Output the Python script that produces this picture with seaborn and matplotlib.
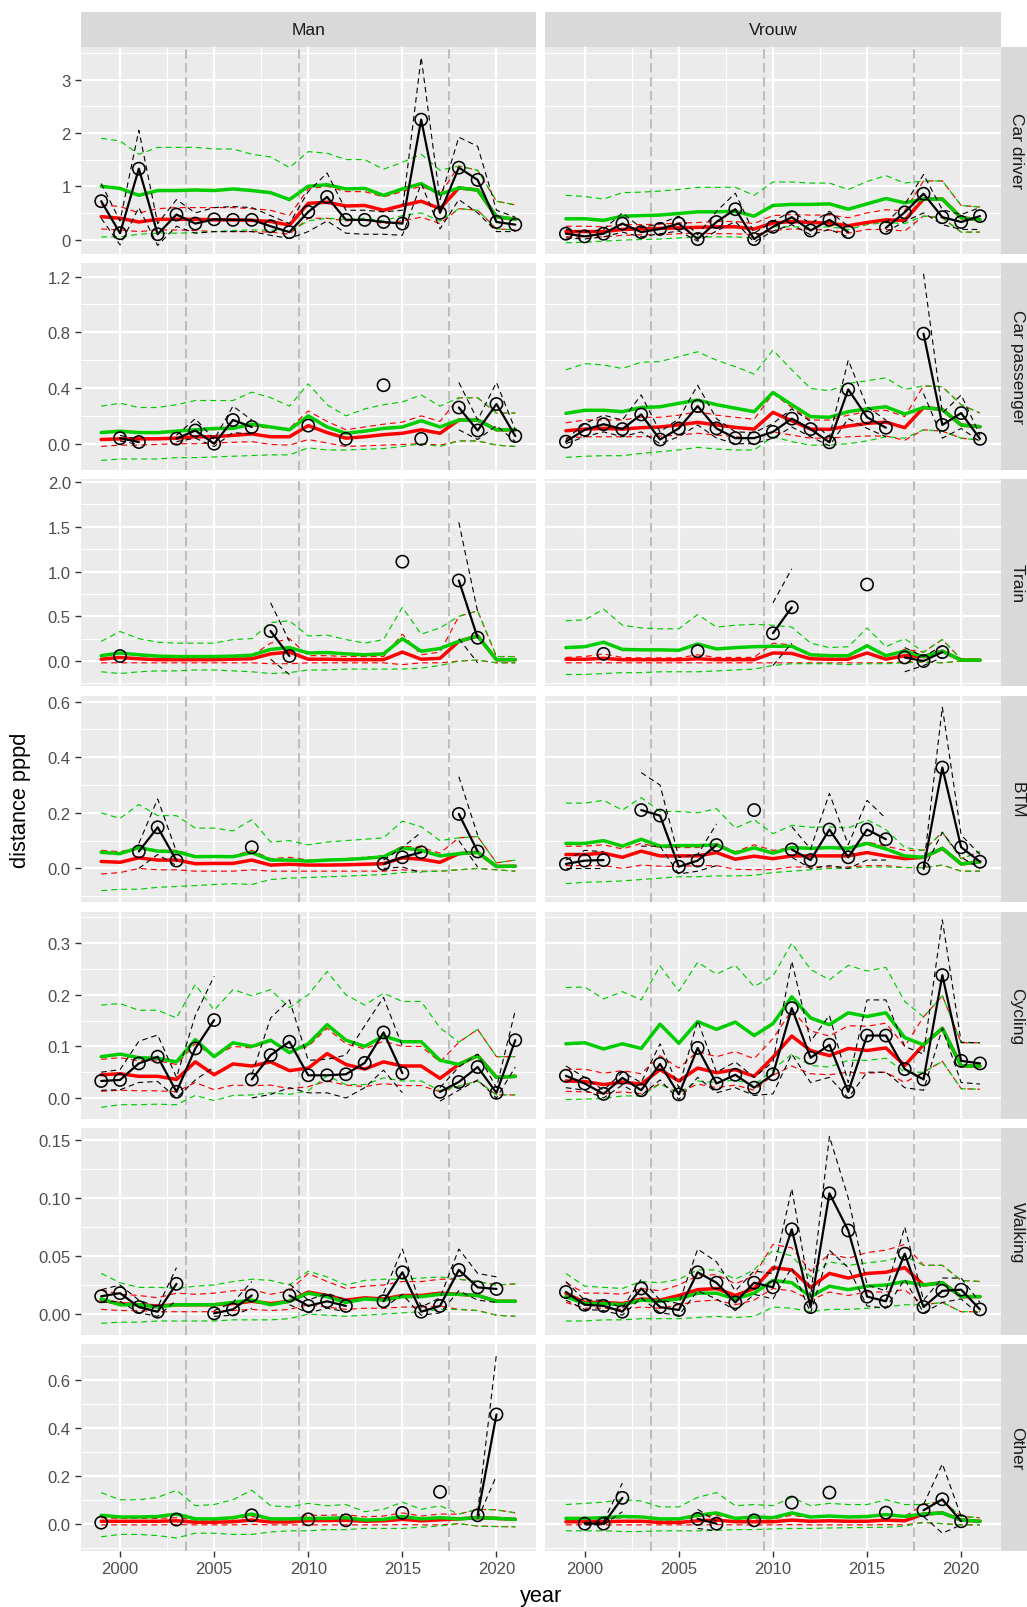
import numpy as np
import pandas as pd
import matplotlib
matplotlib.use("Agg")
import matplotlib.pyplot as plt
from matplotlib.ticker import FixedLocator
import seaborn as sns

N = None
YEARS = list(range(1999, 2022))
SEXES = ["Man", "Vrouw"]
MODES = ["Car driver", "Car passenger", "Train", "BTM", "Cycling", "Walking", "Other"]
PERIOD_BREAKS = [2003.5, 2009.5, 2017.5]
X_TICKS = [2000, 2005, 2010, 2015, 2020]
X_TICK_LABELS = ["2000", "2005", "2010", "2015", "2020"]
Y_TICKS = {
    "Car driver": [0, 1, 2, 3],
    "Car passenger": [0.0, 0.4, 0.8, 1.2],
    "Train": [0.0, 0.5, 1.0, 1.5, 2.0],
    "BTM": [0.0, 0.2, 0.4, 0.6],
    "Cycling": [0.0, 0.1, 0.2, 0.3],
    "Walking": [0.0, 0.05, 0.10, 0.15],
    "Other": [0.0, 0.2, 0.4, 0.6],
}
Y_TICK_LABELS = {
    "Car driver": ["0", "1", "2", "3"],
    "Car passenger": ["0.0", "0.4", "0.8", "1.2"],
    "Train": ["0.0", "0.5", "1.0", "1.5", "2.0"],
    "BTM": ["0.0", "0.2", "0.4", "0.6"],
    "Cycling": ["0.0", "0.1", "0.2", "0.3"],
    "Walking": ["0.00", "0.05", "0.10", "0.15"],
    "Other": ["0.0", "0.2", "0.4", "0.6"],
}

# observed (obs) with its interval, and two model estimates (red, green) with intervals
CAR_DRIVER_MAN = dict(
    obs=[0.72, 0.12, 1.33, 0.10, 0.47, 0.30, 0.38, 0.37, 0.37, 0.25, 0.14, 0.52, 0.80, 0.37, 0.37, 0.33, 0.30, 2.25, 0.50, 1.35, 1.12, 0.33, 0.28],
    obs_hi=[1.05, 0.35, 2.05, 0.30, 0.75, 0.50, 0.60, 0.62, 0.60, 0.45, 0.30, 0.90, 1.25, 0.55, 0.55, 0.52, 0.55, 3.42, 0.75, 1.92, 1.75, 0.55, 0.42],
    obs_lo=[0.40, -0.10, 0.60, -0.11, 0.25, 0.12, 0.15, 0.15, 0.15, 0.08, 0.02, 0.15, 0.35, 0.12, 0.10, 0.10, 0.08, 1.05, 0.20, 0.75, 0.50, 0.15, 0.15],
    red=[0.43, 0.40, 0.33, 0.38, 0.38, 0.38, 0.37, 0.37, 0.36, 0.34, 0.27, 0.68, 0.70, 0.63, 0.64, 0.55, 0.64, 0.72, 0.58, 0.97, 0.93, 0.43, 0.38],
    red_hi=[0.65, 0.62, 0.50, 0.58, 0.60, 0.60, 0.60, 0.60, 0.58, 0.55, 0.45, 0.95, 1.00, 0.90, 0.90, 0.80, 0.90, 1.00, 0.85, 1.38, 1.30, 0.72, 0.65],
    red_lo=[0.20, 0.18, 0.15, 0.18, 0.18, 0.17, 0.15, 0.15, 0.15, 0.14, 0.10, 0.40, 0.40, 0.35, 0.38, 0.30, 0.35, 0.42, 0.30, 0.58, 0.55, 0.20, 0.18],
    green=[1.00, 0.96, 0.83, 0.92, 0.92, 0.93, 0.92, 0.95, 0.92, 0.88, 0.75, 1.00, 1.03, 0.95, 0.96, 0.83, 0.95, 1.05, 0.85, 0.97, 0.93, 0.43, 0.38],
    green_hi=[1.90, 1.85, 1.60, 1.73, 1.73, 1.73, 1.70, 1.70, 1.60, 1.55, 1.35, 1.65, 1.62, 1.50, 1.50, 1.32, 1.45, 1.60, 1.30, 1.38, 1.30, 0.72, 0.65],
    green_lo=[0.05, 0.05, 0.10, 0.12, 0.12, 0.13, 0.15, 0.17, 0.18, 0.18, 0.15, 0.35, 0.40, 0.38, 0.40, 0.35, 0.45, 0.50, 0.35, 0.58, 0.55, 0.20, 0.18],
)
CAR_DRIVER_VROUW = dict(
    obs=[0.11, 0.06, 0.11, 0.30, 0.14, 0.20, 0.30, 0.01, 0.33, 0.57, 0.01, 0.24, 0.42, 0.17, 0.37, 0.14, N, 0.22, 0.51, 0.86, 0.42, 0.33, 0.44],
    obs_hi=[0.19, 0.14, 0.19, 0.50, 0.22, 0.30, 0.44, 0.09, 0.53, 0.87, 0.12, 0.34, 0.53, 0.30, 0.53, 0.25, N, 0.31, 0.66, 1.22, 0.56, 0.47, 0.60],
    obs_lo=[0.03, 0.01, 0.05, 0.14, 0.05, 0.11, 0.16, -0.03, 0.16, 0.34, -0.05, 0.16, 0.28, 0.09, 0.19, 0.05, N, 0.14, 0.34, 0.50, 0.28, 0.19, 0.19],
    red=[0.15, 0.15, 0.15, 0.19, 0.20, 0.21, 0.22, 0.23, 0.24, 0.24, 0.20, 0.31, 0.34, 0.32, 0.31, 0.26, 0.32, 0.37, 0.36, 0.76, 0.76, 0.41, 0.37],
    red_hi=[0.25, 0.25, 0.24, 0.28, 0.28, 0.29, 0.31, 0.32, 0.34, 0.34, 0.30, 0.45, 0.47, 0.46, 0.46, 0.41, 0.50, 0.56, 0.54, 1.10, 1.10, 0.64, 0.61],
    red_lo=[0.05, 0.05, 0.05, 0.08, 0.09, 0.09, 0.11, 0.12, 0.11, 0.11, 0.09, 0.17, 0.20, 0.19, 0.18, 0.12, 0.19, 0.19, 0.16, 0.44, 0.41, 0.14, 0.14],
    green=[0.39, 0.39, 0.36, 0.44, 0.45, 0.46, 0.49, 0.52, 0.52, 0.53, 0.44, 0.64, 0.66, 0.66, 0.67, 0.57, 0.67, 0.77, 0.69, 0.76, 0.76, 0.41, 0.37],
    green_hi=[0.83, 0.81, 0.76, 0.88, 0.89, 0.91, 0.94, 0.98, 0.98, 0.98, 0.83, 1.08, 1.08, 1.06, 1.06, 0.94, 1.09, 1.20, 1.06, 1.10, 1.10, 0.64, 0.61],
    green_lo=[-0.06, -0.05, -0.03, -0.01, 0.00, 0.01, 0.03, 0.05, 0.05, 0.05, 0.03, 0.24, 0.24, 0.23, 0.24, 0.19, 0.28, 0.32, 0.30, 0.44, 0.41, 0.14, 0.14],
)
CAR_PASSENGER_MAN = dict(
    obs=[N, 0.04, 0.012, N, 0.036, 0.095, 0.00, 0.17, 0.12, N, N, 0.13, N, 0.035, N, 0.42, N, 0.035, N, 0.26, 0.095, 0.285, 0.055],
    obs_hi=[N, 0.06, 0.03, N, 0.06, 0.18, 0.03, 0.27, 0.17, N, N, N, N, N, N, N, N, N, N, 0.44, 0.17, 0.44, 0.10],
    obs_lo=[N, 0.02, -0.005, N, 0.015, 0.04, -0.02, 0.08, 0.07, N, N, N, N, N, N, N, N, N, N, 0.10, 0.03, 0.13, 0.015],
    red=[0.03, 0.035, 0.035, 0.035, 0.04, 0.05, 0.05, 0.06, 0.07, 0.05, 0.05, 0.13, 0.08, 0.04, 0.05, 0.065, 0.075, 0.10, 0.075, 0.17, 0.17, 0.10, 0.10],
    red_hi=[0.08, 0.085, 0.085, 0.085, 0.09, 0.10, 0.10, 0.12, 0.13, 0.11, 0.11, 0.235, 0.16, 0.10, 0.12, 0.14, 0.155, 0.20, 0.16, 0.33, 0.33, 0.22, 0.22],
    red_lo=[-0.02, -0.01, -0.01, -0.005, 0.0, 0.0, 0.005, 0.01, 0.015, -0.005, -0.01, 0.03, 0.005, -0.02, -0.015, -0.01, -0.005, 0.0, -0.01, 0.02, 0.02, -0.01, -0.02],
    green=[0.08, 0.09, 0.08, 0.08, 0.09, 0.10, 0.11, 0.11, 0.14, 0.12, 0.10, 0.20, 0.12, 0.075, 0.09, 0.11, 0.12, 0.165, 0.12, 0.17, 0.17, 0.10, 0.10],
    green_hi=[0.27, 0.29, 0.26, 0.26, 0.28, 0.31, 0.31, 0.31, 0.37, 0.33, 0.27, 0.43, 0.28, 0.20, 0.25, 0.28, 0.30, 0.35, 0.27, 0.33, 0.33, 0.22, 0.22],
    green_lo=[-0.12, -0.11, -0.11, -0.11, -0.10, -0.10, -0.095, -0.09, -0.085, -0.08, -0.08, -0.03, -0.045, -0.045, -0.04, -0.035, -0.02, 0.0, -0.02, 0.02, 0.02, -0.01, -0.02],
)
CAR_PASSENGER_VROUW = dict(
    obs=[0.015, 0.10, 0.14, 0.105, 0.21, 0.03, 0.11, 0.27, 0.11, 0.04, 0.04, 0.085, 0.18, 0.105, 0.01, 0.39, 0.19, 0.115, N, 0.79, 0.135, 0.22, 0.035],
    obs_hi=[0.03, 0.145, 0.205, 0.17, 0.35, 0.085, 0.18, 0.42, 0.18, 0.085, 0.08, 0.145, 0.25, 0.16, 0.05, 0.60, 0.265, 0.17, N, 1.22, 0.22, 0.35, 0.06],
    obs_lo=[0.0, 0.05, 0.085, 0.05, 0.085, 0.0, 0.05, 0.135, 0.04, 0.0, 0.0, 0.04, 0.12, 0.05, -0.015, 0.18, 0.11, 0.05, N, 0.36, 0.04, 0.11, 0.015],
    red=[0.093, 0.105, 0.11, 0.105, 0.115, 0.12, 0.135, 0.153, 0.135, 0.117, 0.105, 0.225, 0.165, 0.105, 0.103, 0.127, 0.146, 0.155, 0.115, 0.26, 0.246, 0.134, 0.122],
    red_hi=[0.15, 0.17, 0.17, 0.17, 0.19, 0.19, 0.205, 0.23, 0.205, 0.19, 0.175, 0.36, 0.26, 0.17, 0.17, 0.205, 0.23, 0.24, 0.195, 0.415, 0.41, 0.28, 0.22],
    red_lo=[0.04, 0.05, 0.05, 0.05, 0.05, 0.055, 0.062, 0.075, 0.062, 0.05, 0.04, 0.085, 0.062, 0.04, 0.04, 0.05, 0.055, 0.055, 0.025, 0.10, 0.09, 0.04, 0.025],
    green=[0.218, 0.24, 0.24, 0.23, 0.26, 0.265, 0.29, 0.313, 0.28, 0.255, 0.23, 0.368, 0.28, 0.194, 0.19, 0.23, 0.25, 0.265, 0.213, 0.26, 0.246, 0.134, 0.122],
    green_hi=[0.53, 0.575, 0.565, 0.54, 0.585, 0.59, 0.625, 0.66, 0.60, 0.553, 0.50, 0.672, 0.53, 0.397, 0.38, 0.433, 0.452, 0.473, 0.39, 0.415, 0.41, 0.28, 0.22],
    green_lo=[-0.098, -0.09, -0.086, -0.086, -0.07, -0.057, -0.045, -0.026, -0.038, -0.045, -0.045, 0.05, 0.015, -0.01, -0.01, 0.0, 0.02, 0.05, 0.04, 0.10, 0.09, 0.04, 0.025],
)
TRAIN_MAN = dict(
    obs=[N, 0.056, N, N, N, N, N, N, N, 0.335, 0.056, N, N, N, N, N, 1.11, N, N, 0.90, 0.26, N, N],
    obs_hi=[N, N, N, N, N, N, N, N, N, 0.65, 0.22, N, N, N, N, N, N, N, N, 1.55, 0.55, N, N],
    obs_lo=[N, N, N, N, N, N, N, N, N, 0.02, -0.15, N, N, N, N, N, N, N, N, 0.25, -0.02, N, N],
    red=[0.02, 0.04, 0.025, 0.015, 0.015, 0.015, 0.015, 0.02, 0.025, 0.08, 0.10, 0.02, 0.02, 0.015, 0.015, 0.015, 0.10, 0.02, 0.03, 0.22, 0.28, 0.015, 0.015],
    red_hi=[0.05, 0.09, 0.06, 0.05, 0.05, 0.05, 0.05, 0.05, 0.06, 0.20, 0.25, 0.06, 0.06, 0.05, 0.05, 0.05, 0.30, 0.07, 0.10, 0.50, 0.56, 0.05, 0.05],
    red_lo=[-0.02, -0.02, -0.02, -0.02, -0.02, -0.02, -0.02, -0.02, -0.02, -0.03, -0.03, -0.02, -0.02, -0.02, -0.02, -0.02, -0.04, -0.02, -0.02, 0.0, 0.01, -0.02, -0.02],
    green=[0.06, 0.09, 0.07, 0.055, 0.05, 0.05, 0.05, 0.055, 0.065, 0.13, 0.15, 0.09, 0.095, 0.08, 0.07, 0.08, 0.25, 0.11, 0.14, 0.22, 0.28, 0.015, 0.015],
    green_hi=[0.22, 0.33, 0.25, 0.21, 0.20, 0.20, 0.20, 0.24, 0.25, 0.43, 0.45, 0.28, 0.29, 0.24, 0.20, 0.24, 0.60, 0.30, 0.37, 0.50, 0.56, 0.05, 0.05],
    green_lo=[-0.12, -0.14, -0.12, -0.11, -0.11, -0.10, -0.10, -0.11, -0.12, -0.14, -0.13, -0.10, -0.10, -0.09, -0.09, -0.09, -0.09, -0.08, -0.05, 0.0, 0.01, -0.02, -0.02],
)
TRAIN_VROUW = dict(
    obs=[N, N, 0.08, N, N, N, N, 0.11, N, N, N, 0.31, 0.60, N, N, N, 0.855, N, 0.04, 0.0, 0.10, N, N],
    obs_hi=[N, N, N, N, N, N, N, N, N, N, N, 0.65, 1.03, N, N, N, N, N, 0.15, 0.05, 0.17, N, N],
    obs_lo=[N, N, N, N, N, N, N, N, N, N, N, -0.05, 0.20, N, N, N, N, N, -0.12, -0.05, 0.04, N, N],
    red=[0.02, 0.02, 0.03, 0.015, 0.015, 0.015, 0.015, 0.025, 0.015, 0.015, 0.015, 0.09, 0.085, 0.025, 0.02, 0.02, 0.09, 0.02, 0.06, 0.05, 0.11, 0.01, 0.01],
    red_hi=[0.04, 0.05, 0.08, 0.04, 0.035, 0.035, 0.035, 0.07, 0.04, 0.04, 0.04, 0.20, 0.18, 0.06, 0.05, 0.05, 0.18, 0.05, 0.13, 0.10, 0.24, 0.02, 0.02],
    red_lo=[-0.02, -0.02, -0.02, -0.02, -0.02, -0.02, -0.02, -0.02, -0.02, -0.02, -0.02, -0.02, -0.02, -0.02, -0.02, -0.02, -0.02, -0.02, -0.01, -0.01, -0.02, 0.0, 0.0],
    green=[0.15, 0.16, 0.21, 0.13, 0.125, 0.125, 0.12, 0.19, 0.135, 0.15, 0.16, 0.165, 0.165, 0.07, 0.06, 0.06, 0.17, 0.06, 0.11, 0.05, 0.11, 0.01, 0.01],
    green_hi=[0.45, 0.46, 0.58, 0.40, 0.37, 0.36, 0.36, 0.52, 0.38, 0.40, 0.41, 0.40, 0.38, 0.20, 0.15, 0.16, 0.37, 0.16, 0.25, 0.10, 0.24, 0.02, 0.02],
    green_lo=[-0.15, -0.15, -0.14, -0.13, -0.13, -0.12, -0.12, -0.12, -0.11, -0.10, -0.09, -0.05, -0.03, -0.03, -0.03, -0.04, -0.03, -0.03, -0.02, -0.01, -0.02, 0.0, 0.0],
)
BTM_MAN = dict(
    obs=[N, N, 0.061, 0.148, 0.028, N, N, N, 0.076, N, N, N, N, N, N, 0.016, 0.04, 0.058, N, 0.196, 0.061, N, N],
    obs_hi=[N, N, 0.09, 0.25, 0.06, N, N, N, N, N, N, N, N, N, N, 0.03, 0.075, 0.13, N, 0.33, 0.12, N, N],
    obs_lo=[N, N, 0.0, 0.05, 0.01, N, N, N, N, N, N, N, N, N, N, 0.0, 0.005, -0.015, N, 0.10, 0.005, N, N],
    red=[0.025, 0.022, 0.038, 0.03, 0.03, 0.017, 0.018, 0.018, 0.03, 0.012, 0.015, 0.012, 0.012, 0.013, 0.015, 0.017, 0.038, 0.033, 0.022, 0.053, 0.058, 0.007, 0.008],
    red_hi=[0.065, 0.06, 0.075, 0.065, 0.065, 0.045, 0.045, 0.045, 0.065, 0.035, 0.04, 0.03, 0.03, 0.035, 0.04, 0.045, 0.08, 0.075, 0.055, 0.11, 0.115, 0.02, 0.03],
    red_lo=[-0.02, -0.015, 0.0, -0.005, -0.005, -0.01, -0.01, -0.01, -0.005, -0.01, -0.01, -0.01, -0.01, -0.01, -0.01, -0.01, -0.005, -0.01, -0.01, -0.005, 0.0, -0.005, -0.01],
    green=[0.058, 0.053, 0.075, 0.062, 0.06, 0.042, 0.043, 0.042, 0.057, 0.03, 0.03, 0.026, 0.03, 0.032, 0.036, 0.042, 0.074, 0.065, 0.045, 0.053, 0.058, 0.007, 0.008],
    green_hi=[0.20, 0.18, 0.23, 0.19, 0.19, 0.145, 0.145, 0.135, 0.175, 0.095, 0.10, 0.085, 0.095, 0.10, 0.105, 0.11, 0.17, 0.15, 0.10, 0.11, 0.115, 0.02, 0.03],
    green_lo=[-0.08, -0.075, -0.075, -0.068, -0.065, -0.062, -0.058, -0.055, -0.058, -0.04, -0.035, -0.033, -0.03, -0.028, -0.025, -0.022, -0.015, -0.012, -0.01, -0.005, 0.0, -0.005, -0.01],
)
BTM_VROUW = dict(
    obs=[0.016, 0.028, 0.03, N, 0.21, 0.19, 0.006, 0.028, 0.084, N, 0.21, N, 0.068, 0.03, 0.14, 0.04, 0.14, 0.105, N, 0.0, 0.363, 0.076, 0.024],
    obs_hi=[0.03, 0.065, 0.06, N, 0.345, 0.30, 0.04, 0.05, 0.16, N, N, N, 0.15, 0.07, 0.27, 0.085, 0.245, 0.18, N, 0.005, 0.58, 0.12, 0.05],
    obs_lo=[0.0, 0.0, 0.0, N, 0.08, 0.08, -0.02, -0.01, 0.01, N, N, N, 0.04, 0.0, 0.01, 0.0, 0.03, 0.03, N, -0.005, 0.13, 0.04, 0.0],
    red=[0.05, 0.05, 0.055, 0.04, 0.062, 0.045, 0.045, 0.045, 0.057, 0.033, 0.044, 0.035, 0.045, 0.045, 0.045, 0.045, 0.057, 0.045, 0.035, 0.04, 0.072, 0.016, 0.024],
    red_hi=[0.08, 0.08, 0.085, 0.07, 0.09, 0.075, 0.075, 0.075, 0.09, 0.06, 0.085, 0.065, 0.075, 0.075, 0.075, 0.075, 0.095, 0.08, 0.065, 0.065, 0.13, 0.035, 0.06],
    red_lo=[0.01, 0.01, 0.01, 0.0, 0.012, 0.008, 0.007, 0.01, 0.01, -0.003, -0.005, -0.004, 0.005, 0.005, 0.005, 0.005, 0.01, 0.01, 0.003, 0.003, 0.012, -0.01, -0.01],
    green=[0.09, 0.09, 0.10, 0.08, 0.105, 0.08, 0.082, 0.082, 0.085, 0.055, 0.074, 0.055, 0.075, 0.072, 0.075, 0.072, 0.09, 0.07, 0.045, 0.04, 0.072, 0.016, 0.024],
    green_hi=[0.235, 0.235, 0.245, 0.21, 0.255, 0.205, 0.205, 0.20, 0.215, 0.145, 0.175, 0.125, 0.155, 0.148, 0.15, 0.145, 0.175, 0.14, 0.075, 0.065, 0.13, 0.035, 0.06],
    green_lo=[-0.055, -0.05, -0.048, -0.045, -0.04, -0.035, -0.03, -0.03, -0.027, -0.027, -0.025, -0.015, -0.01, -0.005, 0.0, 0.0, 0.005, 0.005, 0.003, 0.003, 0.012, -0.01, -0.01],
)
CYCLING_MAN = dict(
    obs=[0.033, 0.035, 0.067, 0.08, 0.012, 0.096, 0.151, N, 0.036, 0.083, 0.109, 0.044, 0.044, 0.046, 0.068, 0.127, 0.048, N, 0.012, 0.031, 0.06, 0.01, 0.112],
    obs_hi=[0.05, 0.055, 0.11, 0.122, 0.04, 0.16, 0.236, N, 0.045, 0.155, 0.19, 0.073, 0.075, 0.083, 0.14, 0.195, 0.10, N, 0.02, 0.06, 0.085, 0.02, 0.17],
    obs_lo=[0.015, 0.016, 0.03, 0.032, 0.0, 0.035, 0.06, N, 0.0, 0.007, 0.02, 0.01, 0.01, 0.0, 0.02, 0.054, 0.01, N, -0.006, 0.015, 0.035, 0.0, 0.06],
    red=[0.045, 0.047, 0.042, 0.042, 0.036, 0.07, 0.045, 0.066, 0.062, 0.07, 0.053, 0.058, 0.086, 0.065, 0.056, 0.07, 0.062, 0.062, 0.038, 0.065, 0.082, 0.04, 0.042],
    red_hi=[0.075, 0.078, 0.072, 0.072, 0.065, 0.105, 0.08, 0.10, 0.097, 0.11, 0.09, 0.10, 0.135, 0.105, 0.095, 0.11, 0.10, 0.10, 0.07, 0.108, 0.133, 0.08, 0.08],
    red_lo=[0.013, 0.015, 0.014, 0.014, 0.012, 0.03, 0.016, 0.025, 0.024, 0.025, 0.018, 0.022, 0.033, 0.025, 0.022, 0.028, 0.024, 0.024, 0.012, 0.023, 0.033, 0.006, 0.006],
    green=[0.08, 0.085, 0.078, 0.077, 0.07, 0.113, 0.08, 0.107, 0.10, 0.112, 0.088, 0.105, 0.142, 0.112, 0.10, 0.12, 0.109, 0.109, 0.073, 0.065, 0.082, 0.04, 0.042],
    green_hi=[0.18, 0.183, 0.17, 0.17, 0.155, 0.22, 0.17, 0.21, 0.198, 0.21, 0.175, 0.20, 0.245, 0.20, 0.18, 0.203, 0.187, 0.187, 0.136, 0.108, 0.133, 0.08, 0.08],
    green_lo=[-0.018, -0.013, -0.013, -0.012, -0.013, 0.005, -0.005, 0.005, 0.006, 0.01, 0.007, 0.014, 0.043, 0.026, 0.026, 0.039, 0.033, 0.033, 0.014, 0.023, 0.033, 0.006, 0.006],
)
CYCLING_VROUW = dict(
    obs=[0.043, 0.028, 0.008, 0.039, 0.015, 0.066, 0.007, 0.097, 0.028, 0.045, 0.02, 0.046, 0.174, 0.078, 0.103, 0.012, 0.121, 0.121, 0.056, 0.036, 0.238, 0.072, 0.067],
    obs_hi=[0.062, 0.04, 0.015, 0.05, 0.03, 0.105, 0.02, 0.15, 0.05, 0.07, 0.04, 0.07, 0.265, 0.11, 0.16, 0.03, 0.19, 0.19, 0.10, 0.085, 0.345, 0.108, 0.107],
    obs_lo=[0.02, 0.015, 0.0, 0.025, 0.005, 0.035, -0.003, 0.04, 0.01, 0.02, 0.005, 0.008, 0.085, 0.03, 0.04, 0.0, 0.05, 0.05, 0.02, 0.015, 0.135, 0.03, 0.027],
    red=[0.033, 0.032, 0.026, 0.031, 0.027, 0.055, 0.033, 0.058, 0.049, 0.055, 0.042, 0.079, 0.12, 0.092, 0.082, 0.096, 0.092, 0.097, 0.063, 0.103, 0.135, 0.062, 0.062],
    red_hi=[0.055, 0.056, 0.048, 0.053, 0.047, 0.082, 0.058, 0.09, 0.08, 0.09, 0.076, 0.115, 0.17, 0.13, 0.12, 0.14, 0.139, 0.145, 0.10, 0.157, 0.198, 0.107, 0.107],
    red_lo=[0.013, 0.012, 0.008, 0.012, 0.008, 0.028, 0.01, 0.027, 0.02, 0.025, 0.015, 0.044, 0.062, 0.047, 0.045, 0.05, 0.048, 0.05, 0.03, 0.05, 0.071, 0.018, 0.017],
    green=[0.105, 0.107, 0.095, 0.105, 0.096, 0.143, 0.106, 0.148, 0.133, 0.147, 0.121, 0.144, 0.196, 0.155, 0.142, 0.165, 0.158, 0.165, 0.117, 0.103, 0.135, 0.062, 0.062],
    green_hi=[0.214, 0.215, 0.192, 0.206, 0.19, 0.256, 0.207, 0.263, 0.24, 0.257, 0.216, 0.236, 0.30, 0.249, 0.229, 0.257, 0.246, 0.253, 0.187, 0.157, 0.198, 0.107, 0.107],
    green_lo=[-0.003, -0.002, -0.001, 0.004, 0.004, 0.027, 0.01, 0.033, 0.03, 0.035, 0.025, 0.055, 0.085, 0.063, 0.06, 0.073, 0.073, 0.077, 0.05, 0.05, 0.071, 0.018, 0.017],
)
WALKING_MAN = dict(
    obs=[0.0153, 0.018, 0.006, 0.002, 0.026, N, 0.0006, 0.004, 0.016, N, 0.016, 0.007, 0.011, 0.007, N, 0.011, 0.036, 0.002, 0.007, 0.038, 0.023, 0.0216, N],
    obs_hi=[0.021, 0.025, 0.012, 0.006, 0.04, N, 0.003, 0.01, 0.028, N, 0.026, 0.012, 0.018, 0.012, N, 0.018, 0.056, 0.006, 0.014, 0.056, 0.035, 0.032, N],
    obs_lo=[0.01, 0.011, 0.001, -0.002, 0.012, N, -0.002, -0.001, 0.005, N, 0.008, 0.001, 0.005, 0.002, N, 0.005, 0.017, -0.001, 0.001, 0.02, 0.012, 0.01, N],
    red=[0.012, 0.009, 0.008, 0.007, 0.008, 0.008, 0.008, 0.009, 0.011, 0.009, 0.011, 0.019, 0.016, 0.012, 0.014, 0.013, 0.016, 0.016, 0.018, 0.017, 0.016, 0.011, 0.011],
    red_hi=[0.021, 0.017, 0.016, 0.014, 0.018, 0.017, 0.018, 0.02, 0.021, 0.017, 0.02, 0.035, 0.028, 0.022, 0.024, 0.025, 0.028, 0.028, 0.03, 0.03, 0.028, 0.025, 0.026],
    red_lo=[0.004, 0.003, 0.003, 0.002, 0.002, 0.002, 0.002, 0.003, 0.004, 0.003, 0.004, 0.008, 0.006, 0.004, 0.005, 0.005, 0.006, 0.006, 0.007, 0.004, 0.003, -0.001, -0.002],
    green=[0.013, 0.008, 0.008, 0.006, 0.008, 0.008, 0.008, 0.01, 0.012, 0.008, 0.011, 0.018, 0.015, 0.01, 0.013, 0.012, 0.015, 0.015, 0.017, 0.017, 0.016, 0.011, 0.011],
    green_hi=[0.035, 0.027, 0.023, 0.023, 0.022, 0.024, 0.025, 0.028, 0.03, 0.029, 0.025, 0.037, 0.032, 0.025, 0.029, 0.03, 0.03, 0.031, 0.032, 0.03, 0.028, 0.025, 0.026],
    green_lo=[-0.008, -0.007, -0.007, -0.006, -0.006, -0.006, -0.006, -0.005, -0.005, -0.005, -0.004, 0.0, -0.001, -0.002, -0.001, 0.0, 0.001, 0.002, 0.004, 0.004, 0.003, -0.001, -0.002],
)
WALKING_VROUW = dict(
    obs=[0.019, 0.008, 0.007, 0.002, 0.022, 0.006, 0.0035, 0.036, 0.027, 0.01, 0.027, 0.023, 0.073, 0.006, 0.104, 0.072, 0.015, 0.011, 0.052, 0.006, 0.02, 0.021, 0.004],
    obs_hi=[0.028, 0.012, 0.012, 0.005, 0.03, 0.012, 0.009, 0.056, 0.045, 0.02, 0.037, 0.035, 0.108, 0.015, 0.153, 0.10, 0.025, 0.02, 0.075, 0.012, 0.031, 0.031, 0.01],
    obs_lo=[0.012, 0.004, 0.003, -0.001, 0.014, 0.001, -0.001, 0.02, 0.013, 0.003, 0.017, 0.013, 0.04, 0.001, 0.055, 0.04, 0.007, 0.005, 0.03, 0.001, 0.01, 0.013, -0.001],
    red=[0.018, 0.01, 0.01, 0.009, 0.013, 0.012, 0.016, 0.021, 0.022, 0.016, 0.022, 0.04, 0.038, 0.023, 0.035, 0.031, 0.035, 0.036, 0.04, 0.025, 0.027, 0.015, 0.015],
    red_hi=[0.027, 0.018, 0.018, 0.017, 0.022, 0.02, 0.025, 0.033, 0.034, 0.026, 0.033, 0.06, 0.057, 0.037, 0.052, 0.048, 0.053, 0.055, 0.06, 0.042, 0.042, 0.029, 0.028],
    red_lo=[0.01, 0.005, 0.005, 0.004, 0.006, 0.005, 0.008, 0.011, 0.012, 0.008, 0.012, 0.022, 0.02, 0.012, 0.019, 0.016, 0.019, 0.019, 0.021, 0.008, 0.01, 0.002, 0.002],
    green=[0.015, 0.009, 0.009, 0.008, 0.012, 0.011, 0.013, 0.018, 0.018, 0.013, 0.018, 0.029, 0.027, 0.015, 0.024, 0.021, 0.024, 0.025, 0.028, 0.025, 0.027, 0.015, 0.015],
    green_hi=[0.035, 0.024, 0.023, 0.022, 0.028, 0.027, 0.03, 0.038, 0.038, 0.03, 0.038, 0.055, 0.05, 0.032, 0.045, 0.042, 0.044, 0.046, 0.05, 0.042, 0.042, 0.029, 0.028],
    green_lo=[-0.006, -0.006, -0.005, -0.005, -0.004, -0.004, -0.004, -0.003, -0.002, -0.003, -0.002, 0.006, 0.005, 0.002, 0.004, 0.004, 0.005, 0.006, 0.008, 0.008, 0.01, 0.002, 0.002],
)
OTHER_MAN = dict(
    obs=[0.004, N, N, N, 0.017, N, N, N, 0.035, N, N, 0.018, N, 0.014, N, N, 0.045, N, 0.133, N, 0.035, 0.457, N],
    obs_hi=[N, N, N, N, N, N, N, N, N, N, N, N, N, N, N, N, N, N, N, N, 0.05, 0.71, N],
    obs_lo=[N, N, N, N, N, N, N, N, N, N, N, N, N, N, N, N, N, N, N, N, 0.02, 0.20, N],
    red=[0.01, 0.01, 0.01, 0.01, 0.012, 0.006, 0.006, 0.008, 0.015, 0.007, 0.007, 0.013, 0.013, 0.014, 0.01, 0.012, 0.018, 0.012, 0.016, 0.02, 0.025, 0.022, 0.018],
    red_hi=[0.025, 0.022, 0.022, 0.022, 0.025, 0.015, 0.015, 0.02, 0.03, 0.02, 0.02, 0.035, 0.035, 0.038, 0.028, 0.032, 0.045, 0.032, 0.04, 0.04, 0.06, 0.058, 0.045],
    red_lo=[-0.005, -0.005, -0.005, -0.005, -0.004, -0.005, -0.005, -0.005, -0.003, -0.005, -0.005, -0.005, -0.005, -0.005, -0.005, -0.005, -0.004, -0.005, -0.005, 0.0, -0.01, -0.012, -0.013],
    green=[0.035, 0.028, 0.028, 0.03, 0.04, 0.02, 0.02, 0.025, 0.04, 0.02, 0.02, 0.022, 0.022, 0.025, 0.015, 0.018, 0.03, 0.02, 0.025, 0.02, 0.025, 0.022, 0.018],
    green_hi=[0.13, 0.10, 0.10, 0.11, 0.14, 0.075, 0.08, 0.10, 0.14, 0.075, 0.07, 0.085, 0.075, 0.08, 0.05, 0.06, 0.09, 0.06, 0.075, 0.04, 0.06, 0.058, 0.045],
    green_lo=[-0.055, -0.045, -0.045, -0.05, -0.06, -0.04, -0.04, -0.045, -0.045, -0.035, -0.03, -0.03, -0.025, -0.025, -0.02, -0.02, -0.02, -0.015, -0.01, 0.0, -0.01, -0.012, -0.013],
)
OTHER_VROUW = dict(
    obs=[N, 0.0, 0.0, 0.108, N, N, N, 0.02, 0.0, N, 0.014, N, 0.088, N, 0.13, N, N, 0.046, N, 0.056, 0.102, 0.01, N],
    obs_hi=[N, 0.005, 0.01, 0.17, N, N, N, 0.06, 0.01, N, N, N, N, N, N, N, N, N, N, 0.08, 0.25, 0.03, N],
    obs_lo=[N, -0.005, -0.005, 0.05, N, N, N, -0.02, -0.03, N, N, N, N, N, N, N, N, N, N, 0.03, -0.04, -0.005, N],
    red=[0.008, 0.008, 0.008, 0.01, 0.01, 0.005, 0.005, 0.012, 0.015, 0.008, 0.008, 0.008, 0.015, 0.01, 0.012, 0.01, 0.01, 0.015, 0.012, 0.04, 0.045, 0.015, 0.01],
    red_hi=[0.02, 0.02, 0.02, 0.025, 0.025, 0.015, 0.015, 0.03, 0.035, 0.02, 0.02, 0.02, 0.035, 0.025, 0.03, 0.025, 0.025, 0.035, 0.03, 0.08, 0.095, 0.03, 0.025],
    red_lo=[-0.005, -0.005, -0.005, -0.005, -0.005, -0.005, -0.005, -0.005, -0.004, -0.005, -0.005, -0.005, -0.004, -0.005, -0.005, -0.005, -0.005, -0.004, -0.005, 0.005, 0.0, -0.005, -0.005],
    green=[0.022, 0.022, 0.025, 0.03, 0.028, 0.02, 0.02, 0.035, 0.045, 0.022, 0.028, 0.025, 0.045, 0.028, 0.032, 0.028, 0.03, 0.038, 0.03, 0.04, 0.045, 0.015, 0.01],
    green_hi=[0.08, 0.085, 0.09, 0.10, 0.095, 0.07, 0.07, 0.11, 0.13, 0.075, 0.08, 0.075, 0.11, 0.075, 0.085, 0.08, 0.08, 0.10, 0.08, 0.08, 0.095, 0.03, 0.025],
    green_lo=[-0.03, -0.03, -0.03, -0.033, -0.033, -0.03, -0.03, -0.03, -0.028, -0.025, -0.025, -0.022, -0.02, -0.02, -0.018, -0.017, -0.016, -0.015, -0.01, 0.005, 0.0, -0.005, -0.005],
)

PANEL_DATA = {
    ("Car driver", "Man"): CAR_DRIVER_MAN, ("Car driver", "Vrouw"): CAR_DRIVER_VROUW,
    ("Car passenger", "Man"): CAR_PASSENGER_MAN, ("Car passenger", "Vrouw"): CAR_PASSENGER_VROUW,
    ("Train", "Man"): TRAIN_MAN, ("Train", "Vrouw"): TRAIN_VROUW,
    ("BTM", "Man"): BTM_MAN, ("BTM", "Vrouw"): BTM_VROUW,
    ("Cycling", "Man"): CYCLING_MAN, ("Cycling", "Vrouw"): CYCLING_VROUW,
    ("Walking", "Man"): WALKING_MAN, ("Walking", "Vrouw"): WALKING_VROUW,
    ("Other", "Man"): OTHER_MAN, ("Other", "Vrouw"): OTHER_VROUW,
}

# ---- styling / layout ----
Y_LIMITS = {
    "Car driver": (-0.265, 3.613), "Car passenger": (-0.188, 1.296), "Train": (-0.280, 2.029),
    "BTM": (-0.122, 0.622), "Cycling": (-0.0397, 0.3607), "Walking": (-0.0178, 0.1603),
    "Other": (-0.114, 0.751),
}
X_LIMITS = (1997.9, 2022.1)
RED = "#FF0000"
GREEN = "#00CD00"
DASH = (0, (5, 3.5))
SERIES_STYLE = [
    ("red_lo", RED, 0.85, DASH, 2.0), ("red_hi", RED, 0.85, DASH, 2.0),
    ("green_lo", GREEN, 0.85, DASH, 2.1), ("green_hi", GREEN, 0.85, DASH, 2.1),
    ("red", RED, 2.5, "-", 3.0), ("green", GREEN, 2.5, "-", 3.1),
    ("obs_lo", "black", 0.8, DASH, 4.0), ("obs_hi", "black", 0.8, DASH, 4.0),
    ("obs", "black", 1.6, "-", 5.0),
]

sns.set_theme(style="darkgrid")
plt.rcParams["font.family"] = ["Liberation Sans", "DejaVu Sans"]

W, H = 1027, 1608
COL_X = [80.5, 545.2]
COL_W = 455.5
ROW_TOP = 48.0
ROW_H = 206.7
ROW_STEP = 216.2
STRIP_BG = "#D9D9D9"
TEXT_DARK = "#1A1A1A"
TICK_TEXT = "#4D4D4D"


def rect(x, y, w, h):
    return [x / W, 1 - (y + h) / H, w / W, h / H]


def runs(values):
    v = np.array(values, dtype=float)
    present = ~np.isnan(v)
    frame = pd.DataFrame({"year": YEARS, "value": v, "run": np.cumsum(~present)})
    return frame[present]


def minor_between(ticks, lo, hi):
    step = ticks[1] - ticks[0]
    cands = [ticks[0] - step / 2] + [t + step / 2 for t in ticks]
    return [m for m in cands if lo <= m <= hi]


fig = plt.figure(figsize=(W / 100, H / 100), dpi=100)
fig.patch.set_facecolor("white")

for r, mode in enumerate(MODES):
    top = ROW_TOP + r * ROW_STEP
    for c, sex in enumerate(SEXES):
        ax = fig.add_axes(rect(COL_X[c], top, COL_W, ROW_H))
        ax.set_facecolor("#EBEBEB")
        for sp in ax.spines.values():
            sp.set_visible(False)
        d = PANEL_DATA[(mode, sex)]

        for b in PERIOD_BREAKS:
            ax.axvline(b, color="#BEBEBE", lw=1.5, ls=(0, (4.5, 2.2)), zorder=1.5)

        for key, color, lw, ls, z in SERIES_STYLE:
            frame = runs(d[key])
            if len(frame) == 0:
                continue
            sns.lineplot(data=frame, x="year", y="value", units="run", estimator=None,
                         ax=ax, color=color, lw=lw, linestyle=ls, zorder=z, legend=False)

        pts = runs(d["obs"])
        sns.scatterplot(data=pts, x="year", y="value", ax=ax, s=78, facecolor="none",
                        edgecolor="black", linewidth=1.15, zorder=6, legend=False)

        lo, hi = Y_LIMITS[mode]
        ax.set_xlim(*X_LIMITS)
        ax.set_ylim(lo, hi)
        ax.xaxis.set_major_locator(FixedLocator(X_TICKS))
        ax.xaxis.set_minor_locator(FixedLocator(minor_between(X_TICKS, *X_LIMITS)))
        ax.yaxis.set_major_locator(FixedLocator(Y_TICKS[mode]))
        ax.yaxis.set_minor_locator(FixedLocator(minor_between(Y_TICKS[mode], lo, hi)))
        ax.grid(True, which="major", color="white", lw=1.6)
        ax.grid(True, which="minor", color="white", lw=0.8)
        ax.set_axisbelow(True)
        ax.tick_params(which="minor", length=0)
        ax.tick_params(which="major", length=4, width=1.0, color="#333333",
                       labelsize=12, labelcolor=TICK_TEXT, pad=3.0)
        ax.set_xlabel("")
        ax.set_ylabel("")
        if c == 0:
            ax.set_yticklabels(Y_TICK_LABELS[mode])
            ax.tick_params(axis="y", left=True)
        else:
            ax.tick_params(axis="y", left=False, labelleft=False)
        if r == len(MODES) - 1:
            ax.set_xticklabels(X_TICK_LABELS)
            ax.tick_params(axis="x", bottom=True)
        else:
            ax.tick_params(axis="x", bottom=False, labelbottom=False)

        # top strip with sex label
        if r == 0:
            sax = fig.add_axes(rect(COL_X[c], 12.5, COL_W, 35.5))
            sax.set_facecolor(STRIP_BG)
            sax.grid(False)
            sax.set_xticks([])
            sax.set_yticks([])
            for sp in sax.spines.values():
                sp.set_visible(False)
            sax.text(0.5, 0.5, sex, transform=sax.transAxes, ha="center", va="center",
                     fontsize=12.5, color=TEXT_DARK)

    # right strip with mode label
    rax = fig.add_axes(rect(COL_X[1] + COL_W, top, W - (COL_X[1] + COL_W), ROW_H))
    rax.set_facecolor(STRIP_BG)
    rax.grid(False)
    rax.set_xticks([])
    rax.set_yticks([])
    for sp in rax.spines.values():
        sp.set_visible(False)
    strip_w = W - (COL_X[1] + COL_W)
    rax.text((1017.0 - (COL_X[1] + COL_W)) / strip_w, 0.5, mode, transform=rax.transAxes,
             ha="center", va="center", rotation=-90, fontsize=12.5, color=TEXT_DARK)

fig.text(20.5 / W, 1 - 800 / H, "distance pppd", rotation=90, ha="center", va="center",
         fontsize=15.7, color="black")
fig.text((COL_X[0] + COL_X[1] + COL_W) / 2 / W, 1 - 1597 / H, "year", ha="center", va="center",
         fontsize=15.7, color="black")

fig.savefig("out.png", dpi=100, facecolor="white")
